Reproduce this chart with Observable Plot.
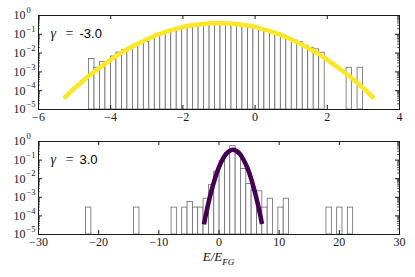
<!DOCTYPE html>
<html><head><meta charset="utf-8">
<script src="https://cdn.jsdelivr.net/npm/d3@7"></script>
<script src="https://cdn.jsdelivr.net/npm/@observablehq/plot@0.6"></script>
<style>
body{margin:0;background:#fff;}
#wrap{position:relative;width:415px;height:277px;overflow:hidden;background:#fff;}
#top,#bot{position:absolute;left:0;}
#top{top:0}
#bot{top:130px}
#xlab{position:absolute;left:38px;width:361px;top:249px;text-align:center;font:italic 13px "Liberation Serif",serif;color:#111;}
#xlab sub{font-size:9px;}
</style></head><body>
<div id="wrap"><div id="top"></div><div id="bot"></div>
<div id="xlab">E/E<sub>FG</sub></div></div>
<script>
// ---- data ----
const topBinStart = -4.60, topBinWidth = 0.1518;
const topDensity = [4.8e-3,1.66e-3,3.3e-3,3.3e-3,6.6e-3,0.0107,0.0141,0.0182,0.0251,0.0316,
  0.0398,0.0562,0.0794,0.105,0.135,0.166,0.204,0.240,0.282,0.316,
  0.347,0.372,0.389,0.398,0.398,0.380,0.363,0.339,0.302,0.269,
  0.234,0.200,0.162,0.126,0.105,0.083,0.063,0.047,0.038,0.025,
  0.019,0.0158,0.0105,null,null,null,null,1.66e-3,null,1.66e-3];
const topCurveX = [-5.3,-4.9,-4.5,-4.1,-3.7,-3.3,-2.9,-2.5,-2.1,-1.7,-1.3,-1.0,-0.7,-0.3,0.1,0.5,0.9,1.3,1.7,2.1,2.5,2.9,3.3];
const topCurveY = [3.9e-5,2.0e-4,8.7e-4,3.2e-3,0.0105,0.028,0.066,0.129,0.219,0.309,0.38,0.399,0.38,0.309,0.219,0.129,0.066,0.028,0.0105,3.2e-3,8.7e-4,2.0e-4,3.9e-5];

const botBinStart = -22.1, botBinWidth = 0.888;
const botDensity = [2.8e-4,null,null,null,null,null,null,null,null,2.8e-4,
  null,null,null,null,null,null,2.8e-4,null,2.8e-4,5.6e-4,
  2.8e-4,2.8e-4,8.4e-4,4.5e-3,0.0235,0.087,0.24,0.56,0.21,0.033,
  5.2e-3,2.3e-3,2.1e-3,2.8e-4,8.4e-4,null,2.8e-4,8.4e-4,null,null,
  null,null,null,null,null,2.8e-4,null,2.8e-4,null,2.8e-4];
const botCurveX = [-2.5,-1.9,-1.3,-0.7,-0.1,0.5,1.1,1.7,2.3,2.9,3.5,4.1,4.7,5.3,5.9,6.5,7.15];
const botCurveY = [3.5e-5,3.1e-4,1.95e-3,9.5e-3,0.035,0.095,0.195,0.30,0.355,0.31,0.21,0.102,0.039,0.011,2.3e-3,3.7e-4,3.7e-5];

const topXTicks = [-6,-4,-2,0,2,4];
const botXTicks = [-30,-20,-10,0,10,20,30];
const yTicks = [1,0.1,0.01,1e-3,1e-4,1e-5];
const yExp = ["0","\u22121","\u22122","\u22123","\u22124","\u22125"];
const gammaTop = "-3.0", gammaBot = "3.0";
const colorTop = "#FDE725", colorBot = "#440154";

// ---- drawing ----
const yMinor = d3.scaleLog().domain([1e-5,1]).ticks()
  .filter(t => Math.abs(Math.log10(t) - Math.round(Math.log10(t))) > 1e-6);

function panel({density, start, width, cx, cy, xdom, xticks, color, gamma, height, mt, mb}) {
  const bars = density.map((v,i) => ({x1: start + i*width, x2: start + (i+1)*width, y: v}))
                      .filter(d => d.y != null);
  const curve = cx.map((x,i) => ({x, y: cy[i]}));
  const W = 415 - 38 - 16, H = height - mt - mb;
  const ink = "#1a1a1a";
  return Plot.plot({
    width: 415, height, marginLeft: 38, marginRight: 16, marginTop: mt, marginBottom: mb,
    x: {domain: xdom, axis: null},
    y: {type: "log", domain: [1e-5, 1], axis: null},
    style: {fontFamily: '"Liberation Serif", serif', fontSize: "12px", background: "white", color: ink},
    marks: [
      Plot.rectY(bars, {x1: "x1", x2: "x2", y1: 1e-5, y2: "y", fill: "white", stroke: "#6a6a6a", strokeWidth: 0.8}),
      Plot.line(curve, {x: "x", y: "y", stroke: color, strokeWidth: 4.5, curve: "natural", strokeLinecap: "butt"}),
      Plot.tickX(xticks, {x: d => d, insetTop: H - 4, stroke: ink}),
      Plot.tickX(xticks, {x: d => d, insetBottom: H - 4, stroke: ink}),
      Plot.tickY(yTicks, {y: d => d, insetRight: W - 4, stroke: ink}),
      Plot.tickY(yTicks, {y: d => d, insetLeft: W - 4, stroke: ink}),
      Plot.tickY(yMinor, {y: d => d, insetRight: W - 2, stroke: ink, strokeWidth: 0.7}),
      Plot.tickY(yMinor, {y: d => d, insetLeft: W - 2, stroke: ink, strokeWidth: 0.7}),
      Plot.frame({stroke: ink}),
      Plot.axisX(xticks, {tickSize: 0, tickPadding: 3, label: null, fontSize: 12}),
      Plot.text(yTicks, {y: d => d, frameAnchor: "left", dx: -13, text: () => "10", textAnchor: "end", fontSize: 12}),
      Plot.text(yTicks, {y: d => d, frameAnchor: "left", dx: -12, dy: -5, text: (d,i) => yExp[i], textAnchor: "start", fontSize: 8.5}),
      Plot.text([0], {frameAnchor: "top-left", dx: 12, dy: 18, text: () => "\u03b3", fontStyle: "italic", fontSize: 14, textAnchor: "start", lineAnchor: "middle"}),
      Plot.text([0], {frameAnchor: "top-left", dx: 27, dy: 18, text: () => "=", fontSize: 14, textAnchor: "start", lineAnchor: "middle"}),
      Plot.text([0], {frameAnchor: "top-left", dx: 41, dy: 18, text: () => gamma, fontFamily: '"Liberation Sans", Arial, sans-serif', fontSize: 13, textAnchor: "start", lineAnchor: "middle", fill: "#000"})
    ]
  });
}

document.getElementById("top").append(panel({
  density: topDensity, start: topBinStart, width: topBinWidth, cx: topCurveX, cy: topCurveY,
  xdom: [-6, 4], xticks: topXTicks, color: colorTop, gamma: gammaTop, height: 130, mt: 15, mb: 21
}));
document.getElementById("bot").append(panel({
  density: botDensity, start: botBinStart, width: botBinWidth, cx: botCurveX, cy: botCurveY,
  xdom: [-30, 30], xticks: botXTicks, color: colorBot, gamma: gammaBot, height: 120, mt: 11, mb: 16
}));
</script>
</body></html>
